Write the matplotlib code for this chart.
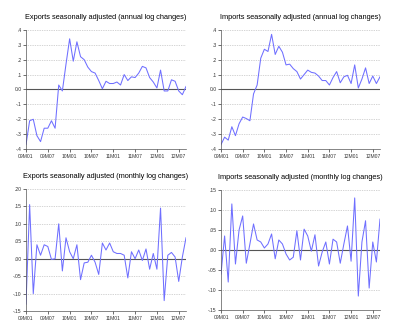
import numpy as np
import matplotlib
matplotlib.use("Agg")
import matplotlib.pyplot as plt

plt.rcParams['font.family'] = ['Liberation Sans', 'DejaVu Sans']

# データ (2009M01 - 2012M09, 月次)
months = list(range(45))
tick_pos = [0, 6, 12, 18, 24, 30, 36, 42]
tick_labels = ["09M01", "09M07", "10M01", "10M07", "11M01", "11M07", "12M01", "12M07"]

exports_annual = [-0.37, -0.21, -0.20, -0.31, -0.35, -0.26, -0.26, -0.21, -0.26, 0.03,
                  -0.01, 0.17, 0.34, 0.19, 0.32, 0.22, 0.20, 0.15, 0.12, 0.11,
                  0.06, 0.005, 0.055, 0.04, 0.04, 0.05, 0.03, 0.10, 0.06, 0.085,
                  0.08, 0.11, 0.155, 0.145, 0.08, 0.05, 0.01, 0.13, -0.01, -0.01,
                  0.065, 0.055, -0.01, -0.035, 0.02]

imports_annual = [-0.37, -0.32, -0.34, -0.25, -0.31, -0.23, -0.185, -0.195, -0.21, -0.03,
                  0.03, 0.21, 0.27, 0.255, 0.37, 0.235, 0.29, 0.25, 0.165, 0.17,
                  0.14, 0.12, 0.07, 0.10, 0.13, 0.115, 0.11, 0.09, 0.06, 0.06,
                  0.03, 0.08, 0.12, 0.045, 0.085, 0.095, 0.04, 0.165, 0.01, 0.07,
                  0.145, 0.04, 0.09, 0.04, 0.085]

exports_monthly = [-0.13, 0.155, -0.10, 0.04, 0.01, 0.04, 0.035, -0.002, 0.0, 0.10,
                   -0.035, 0.06, 0.02, 0.0, 0.04, -0.06, -0.012, -0.01, 0.01, -0.01,
                   -0.045, 0.045, 0.025, 0.045, 0.02, 0.015, 0.015, 0.01, -0.055, 0.02,
                   0.0, 0.025, -0.005, 0.028, -0.03, 0.015, -0.03, 0.145, -0.12, 0.01,
                   0.018, 0.005, -0.065, 0.005, 0.06]

imports_monthly = [-0.06, 0.035, -0.08, 0.115, -0.035, 0.05, 0.085, -0.033, 0.015, 0.065,
                   0.025, 0.02, 0.005, 0.015, 0.04, -0.022, 0.025, 0.015, -0.01, -0.025,
                   -0.018, 0.048, -0.025, 0.052, 0.035, -0.003, 0.038, -0.04, -0.005, 0.02,
                   -0.035, 0.027, 0.02, -0.033, 0.015, 0.06, -0.028, 0.13, -0.115, 0.02,
                   0.073, -0.095, 0.02, -0.03, 0.077]

annual_ticks = [-0.4, -0.3, -0.2, -0.1, 0.0, 0.1, 0.2, 0.3, 0.4]
annual_labels = ["-.4", "-.3", "-.2", "-.1", "0.0", ".1", ".2", ".3", ".4"]
exp_m_ticks = [-0.15, -0.10, -0.05, 0.0, 0.05, 0.10, 0.15, 0.20]
exp_m_labels = ["-.15", "-.10", "-.05", ".00", ".05", ".10", ".15", ".20"]
imp_m_ticks = [-0.15, -0.10, -0.05, 0.0, 0.05, 0.10, 0.15]
imp_m_labels = ["-.15", "-.10", "-.05", ".00", ".05", ".10", ".15"]

panels = [
    ([0.065, 0.551, 0.40, 0.359], exports_annual, "Exports seasonally adjusted (annual log changes)", annual_ticks, annual_labels),
    ([0.5525, 0.551, 0.3975, 0.359], imports_annual, "Imports seasonally adjusted (annual log changes)", annual_ticks, annual_labels),
    ([0.065, 0.063, 0.40, 0.368], exports_monthly, "Exports seasonally adjusted (monthly log changes)", exp_m_ticks, exp_m_labels),
    ([0.5525, 0.066, 0.3975, 0.362], imports_monthly, "Imports seasonally adjusted (monthly log changes)", imp_m_ticks, imp_m_labels),
]

fig = plt.figure(figsize=(4, 3.32), dpi=100)

for rect, values, title, yticks, ylabels in panels:
    ax = fig.add_axes(rect)
    for y in yticks:
        if abs(y) < 1e-9:
            ax.axhline(y, color='#555555', lw=0.8, zorder=1)
        else:
            ax.axhline(y, color='#aaaaaa', lw=0.5, ls=(0, (1, 1.5)), zorder=0)
    ax.plot(months, values, color='#6f6fff', lw=0.75, zorder=2)
    ax.set_xlim(0, months[-1])
    ax.set_ylim(yticks[0], yticks[-1])
    ax.set_xticks(tick_pos)
    ax.set_xticklabels(tick_labels)
    ax.set_yticks(yticks)
    ax.set_yticklabels(ylabels)
    ax.tick_params(labelsize=3.6, length=2, width=0.5, pad=1.2, colors='#333333')
    for s in ['top', 'right']:
        ax.spines[s].set_visible(False)
    for s in ['left', 'bottom']:
        ax.spines[s].set_linewidth(0.5)
        ax.spines[s].set_color('#555555')
    ax.set_title(title, fontsize=5.3, pad=8, color='black')

fig.savefig("out.png", dpi=100)
